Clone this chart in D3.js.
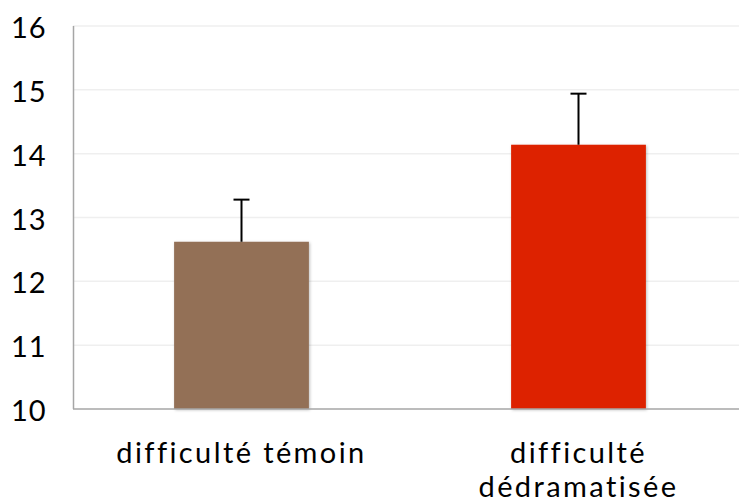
<!DOCTYPE html>
<html>
<head>
<meta charset="utf-8">
<script src="https://cdn.jsdelivr.net/npm/d3@7"></script>
<style>
  body { margin: 0; background: #fff; }
  text { font-family: "Century Gothic", "Lato", sans-serif; fill: #000; }
</style>
</head>
<body>
<div id="chart"></div>
<script>
// data
var categories = ["difficulté témoin", "difficulté dédramatisée"];
var labelLines = [["difficulté témoin"], ["difficulté", "dédramatisée"]];
var means = [12.62, 14.14];
var errorTops = [13.28, 14.94];
var colors = ["#937057", "#dd2200"];
var yTicks = [10, 11, 12, 13, 14, 15, 16];

var width = 739, height = 502;

var svg = d3.select("#chart").append("svg")
    .attr("width", width)
    .attr("height", height);

// soft shadow on the bars
var filter = svg.append("defs").append("filter")
    .attr("id", "shadow")
    .attr("x", "-10%").attr("y", "-10%")
    .attr("width", "120%").attr("height", "120%");
filter.append("feDropShadow")
    .attr("dx", 1).attr("dy", 1)
    .attr("stdDeviation", 1.5)
    .attr("flood-color", "#000")
    .attr("flood-opacity", 0.25);

var x = d3.scaleBand()
    .domain(categories)
    .range([73, 747])
    .paddingInner(0.6)
    .paddingOuter(0.3);

var y = d3.scaleLinear()
    .domain([10, 16])
    .range([409, 26]);

// gridlines
svg.append("g")
    .selectAll("line")
    .data(yTicks.slice(1))
    .enter().append("line")
    .attr("x1", 73)
    .attr("x2", width)
    .attr("y1", function(d) { return y(d); })
    .attr("y2", function(d) { return y(d); })
    .attr("stroke", "#efefef")
    .attr("stroke-width", 1.5);

// tick labels (left aligned like the original)
svg.append("g")
    .selectAll("text")
    .data(yTicks)
    .enter().append("text")
    .attr("x", 11)
    .attr("y", function(d) { return y(d) + 2; })
    .attr("dy", "0.35em")
    .style("font-size", "29px")
    .style("letter-spacing", "1px")
    .text(function(d) { return d; });

// bars
svg.append("g")
    .selectAll("rect")
    .data(means)
    .enter().append("rect")
    .attr("x", function(d, i) { return x(categories[i]); })
    .attr("width", x.bandwidth())
    .attr("y", function(d) { return y(d); })
    .attr("height", function(d) { return y(10) - y(d); })
    .attr("fill", function(d, i) { return colors[i]; })
    .attr("filter", "url(#shadow)");

// error bars
var err = svg.append("g")
    .selectAll("g")
    .data(errorTops)
    .enter().append("g")
    .attr("transform", function(d, i) {
        return "translate(" + (x(categories[i]) + x.bandwidth() / 2) + ",0)";
    });
err.append("line")
    .attr("x1", 0).attr("x2", 0)
    .attr("y1", function(d, i) { return y(means[i]); })
    .attr("y2", function(d) { return y(d); })
    .attr("stroke", "#000")
    .attr("stroke-width", 2);
err.append("line")
    .attr("x1", -8).attr("x2", 8)
    .attr("y1", function(d) { return y(d); })
    .attr("y2", function(d) { return y(d); })
    .attr("stroke", "#000")
    .attr("stroke-width", 2);

// axes
svg.append("line")
    .attr("x1", 73.5).attr("x2", 73.5)
    .attr("y1", y(16)).attr("y2", y(10))
    .attr("stroke", "#a6a6a6")
    .attr("stroke-width", 1.5);
svg.append("line")
    .attr("x1", 73).attr("x2", width)
    .attr("y1", y(10)).attr("y2", y(10))
    .attr("stroke", "#a6a6a6")
    .attr("stroke-width", 1.5);

// category labels
var cats = svg.append("g")
    .selectAll("text")
    .data(categories)
    .enter().append("text")
    .attr("text-anchor", "middle")
    .attr("x", function(d) { return x(d) + x.bandwidth() / 2; })
    .attr("y", 463)
    .style("font-size", "29px")
    .style("letter-spacing", "2.4px");
cats.selectAll("tspan")
    .data(function(d, i) { return labelLines[i]; })
    .enter().append("tspan")
    .attr("x", function() { return d3.select(this.parentNode).attr("x"); })
    .attr("dy", function(d, i) { return i === 0 ? 0 : 34; })
    .text(function(d) { return d; });
</script>
</body>
</html>
